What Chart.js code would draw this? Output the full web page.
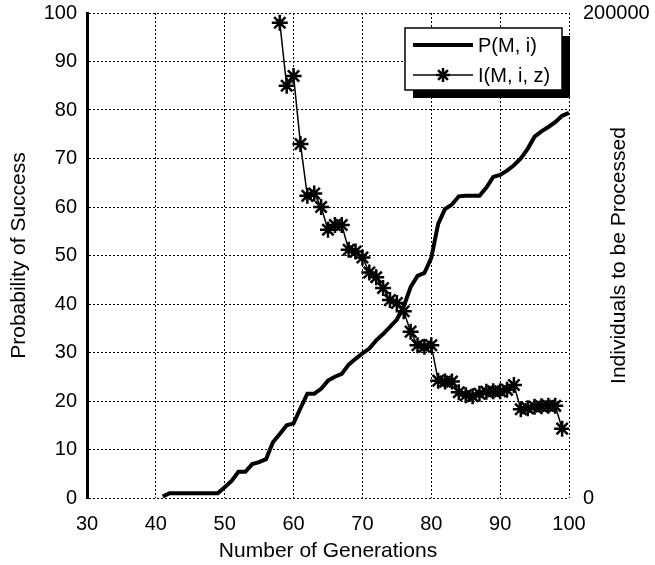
<!DOCTYPE html>
<html>
<head>
<meta charset="utf-8">
<script src="https://cdn.jsdelivr.net/npm/chart.js@4/dist/chart.umd.min.js"></script>
<style>
  html, body { margin: 0; padding: 0; background: #fff; }
  #wrap { width: 655px; height: 565px; }
</style>
</head>
<body>
<div id="wrap"><canvas id="chart" width="655" height="565"></canvas></div>
<script>
// ---------- data ----------
const genP = [41, 42, 43, 44, 45, 46, 47, 48, 49, 50, 51, 52, 53, 54, 55, 56, 57, 58, 59, 60,
  61, 62, 63, 64, 65, 66, 67, 68, 69, 70, 71, 72, 73, 74, 75, 76, 77, 78, 79, 80,
  81, 82, 83, 84, 85, 86, 87, 88, 89, 90, 91, 92, 93, 94, 95, 96, 97, 98, 99, 100];
const probSuccess = [0.3, 1, 1, 1, 1, 1, 1, 1, 1, 2.2, 3.5, 5.4, 5.4, 7, 7.4, 8, 11.5, 13.2, 15, 15.4,
  18.5, 21.5, 21.5, 22.5, 24.2, 25, 25.6, 27.5, 28.7, 29.8, 30.8, 32.5, 33.8, 35.3, 36.8, 39.5, 43.5, 45.8, 46.4, 49.5,
  56.5, 59.6, 60.5, 62.2, 62.3, 62.3, 62.3, 64, 66.2, 66.6, 67.5, 68.6, 70, 72, 74.5, 75.6, 76.5, 77.5, 78.8, 79.4];

const genI = [58, 59, 60, 61, 62, 63, 64, 65, 66, 67, 68, 69, 70, 71, 72, 73, 74, 75, 76, 77, 78, 79,
  80, 81, 82, 83, 84, 85, 86, 87, 88, 89, 90, 91, 92, 93, 94, 95, 96, 97, 98, 99];
const individuals = [196000, 170000, 174000, 146000, 124600, 125600, 120000, 110600, 112600, 112600,
  102400, 101600, 99200, 93000, 91000, 86600, 81600, 80400, 77000, 68600, 63000, 62400,
  63000, 48400, 48000, 48000, 43600, 42400, 42000, 43000, 43800, 44000, 44000, 44600, 46600,
  36600, 37000, 37600, 37800, 38000, 38000, 28600];

const xTickValues = [30, 40, 50, 60, 70, 80, 90, 100];
const yTickValues = [0, 10, 20, 30, 40, 50, 60, 70, 80, 90, 100];
const y2TickValues = [0, 200000];

const seriesNames = ["P(M, i)", "I(M, i, z)"];
const xTitle = "Number of Generations";
const yTitle = "Probability of Success";
const y2Title = "Individuals to be Processed";

const FONT = "Liberation Sans";

// ---------- extras: right title + legend ----------
function drawStar(ctx, x, y, r) {
  ctx.beginPath();
  for (let k = 0; k < 4; k++) {
    const a = k * Math.PI / 4;
    ctx.moveTo(x - r * Math.cos(a), y - r * Math.sin(a));
    ctx.lineTo(x + r * Math.cos(a), y + r * Math.sin(a));
  }
  ctx.stroke();
}

const extras = {
  id: "extras",
  afterDraw(chart) {
    const ctx = chart.ctx;
    const area = chart.chartArea;

    // right axis title, reading bottom to top
    ctx.save();
    ctx.font = "21px '" + FONT + "'";
    ctx.fillStyle = "#000";
    ctx.textAlign = "center";
    ctx.textBaseline = "middle";
    ctx.translate(area.right + 50, (area.top + area.bottom) / 2);
    ctx.rotate(-Math.PI / 2);
    ctx.fillText(y2Title, 0, 0);
    ctx.restore();

    // legend box with shadow
    const w = 157, h = 62;
    const left = area.right - 164;
    const top = area.top + 15;
    ctx.save();
    ctx.fillStyle = "#000";
    ctx.fillRect(left + 8, top + 8, w, h);
    ctx.fillStyle = "#fff";
    ctx.fillRect(left, top, w, h);
    ctx.strokeStyle = "#000";
    ctx.lineWidth = 1.5;
    ctx.strokeRect(left, top, w, h);

    const rows = [top + 17, top + 47];
    // P row
    ctx.lineWidth = 4;
    ctx.beginPath();
    ctx.moveTo(left + 8, rows[0]);
    ctx.lineTo(left + 68, rows[0]);
    ctx.stroke();
    // I row
    ctx.lineWidth = 1.5;
    ctx.beginPath();
    ctx.moveTo(left + 8, rows[1]);
    ctx.lineTo(left + 68, rows[1]);
    ctx.stroke();
    ctx.lineWidth = 2.5;
    drawStar(ctx, left + 38, rows[1], 7);

    ctx.font = "20px '" + FONT + "'";
    ctx.fillStyle = "#000";
    ctx.textAlign = "left";
    ctx.textBaseline = "middle";
    ctx.fillText(seriesNames[0], left + 73, rows[0] + 1);
    ctx.fillText(seriesNames[1], left + 73, rows[1] + 1);
    ctx.restore();
  }
};

// ---------- chart ----------
const dotted = [2, 2];

new Chart(document.getElementById("chart"), {
  type: "line",
  data: {
    datasets: [
      {
        label: seriesNames[1],
        data: genI.map((g, i) => ({ x: g, y: individuals[i] })),
        yAxisID: "y2",
        borderColor: "#000",
        backgroundColor: "#000",
        borderWidth: 1.5,
        pointStyle: "star",
        pointRadius: 8,
        pointBorderWidth: 2.5,
        pointBorderColor: "#000",
        tension: 0
      },
      {
        label: seriesNames[0],
        data: genP.map((g, i) => ({ x: g, y: probSuccess[i] })),
        yAxisID: "y",
        borderColor: "#000",
        borderWidth: 4,
        pointRadius: 0,
        tension: 0
      }
    ]
  },
  options: {
    responsive: false,
    animation: false,
    layout: { padding: 0 },
    plugins: {
      legend: { display: false },
      tooltip: { enabled: false }
    },
    scales: {
      x: {
        type: "linear",
        min: 30,
        max: 100,
        afterBuildTicks: s => { s.ticks = xTickValues.map(v => ({ value: v })); },
        afterFit: s => { s.height = 67; },
        grid: { color: "#000", lineWidth: 1, drawTicks: false },
        border: { display: false, dash: dotted },
        ticks: { color: "#000", font: { family: FONT, size: 20 }, padding: 14, maxRotation: 0 },
        title: {
          display: true, text: xTitle, color: "#000",
          font: { family: FONT, size: 21 }, padding: { top: 0, bottom: 1 }
        }
      },
      y: {
        position: "left",
        min: 0,
        max: 100,
        afterBuildTicks: s => { s.ticks = yTickValues.map(v => ({ value: v })); },
        afterFit: s => { s.width = 87; s.paddingTop = 13; },
        grid: { color: "#000", lineWidth: 1, drawTicks: false },
        border: { display: true, color: "#000", width: 3, dash: dotted },
        ticks: { color: "#000", font: { family: FONT, size: 20 }, padding: 10 },
        title: {
          display: true, text: yTitle, color: "#000",
          font: { family: FONT, size: 21 }, padding: { top: 7, bottom: 0 }
        }
      },
      y2: {
        position: "right",
        min: 0,
        max: 200000,
        afterBuildTicks: s => { s.ticks = y2TickValues.map(v => ({ value: v })); },
        afterFit: s => { s.width = 86; s.paddingTop = 13; },
        grid: { display: false, drawTicks: false },
        border: { display: false },
        ticks: {
          color: "#000", font: { family: FONT, size: 20 }, padding: 14,
          callback: v => String(v)
        }
      }
    }
  },
  plugins: [extras]
});
</script>
</body>
</html>
